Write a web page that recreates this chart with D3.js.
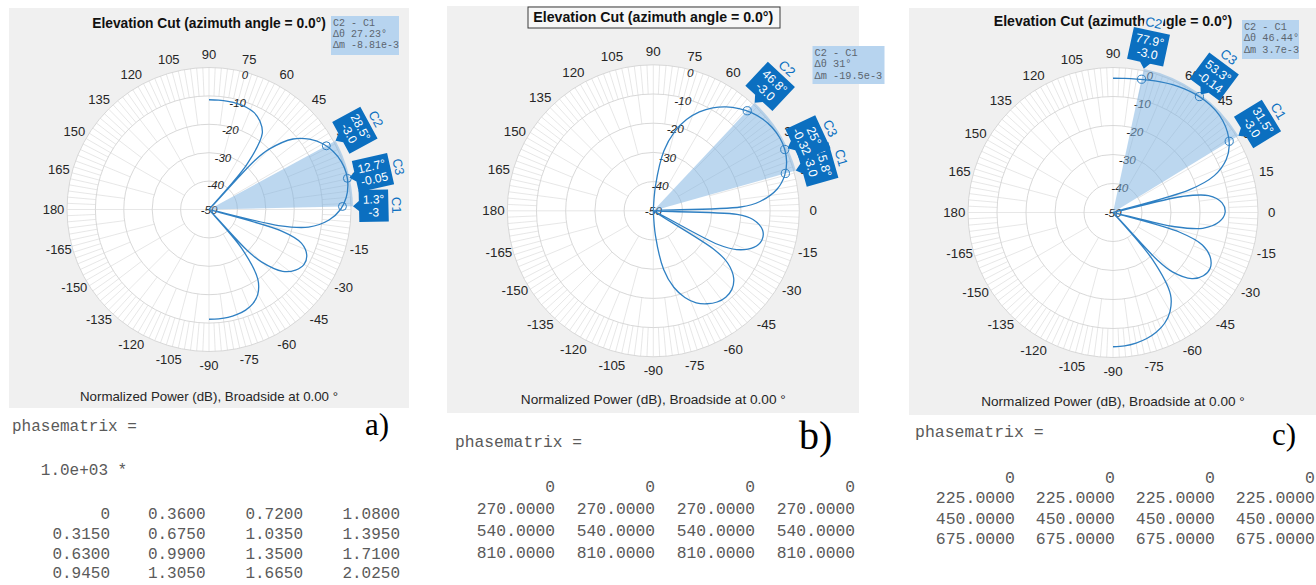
<!DOCTYPE html>
<html>
<head>
<meta charset="utf-8">
<script src="https://cdn.jsdelivr.net/npm/d3@7"></script>
<style>
  body { margin: 0; background: #fff; }
  svg { display: block; font-family: "Liberation Sans", Arial, sans-serif; }
</style>
</head>
<body>
<svg id="fig" width="1316" height="585"></svg>
<script>
// ---- data ----
const titleText = "Elevation Cut (azimuth angle = 0.0°)";
const captionText = "Normalized Power (dB), Broadside at 0.00 °";
const angleTicks = [0, 15, 30, 45, 60, 75, 90, 105, 120, 135, 150, 165, 180,
  -165, -150, -135, -120, -105, -90, -75, -60, -45, -30, -15];
const ringTicks = [0, -10, -20, -30, -40, -50];

// [angle in degrees, normalized power in dB]
const patternA = [[-90,-11.35],[-85,-11.36],[-80,-11.42],[-75,-11.75],[-70,-12.3],[-65,-13.44],
  [-60,-15.62],[-55,-20.04],[-50,-32.0],[-48.6,-50],[-47,-30.5],[-45,-23.9],[-40,-16.13],
  [-35,-12.8],[-30,-11.35],[-25,-12.03],[-20,-15.38],[-16.5,-23.5],[-14.5,-50],[-13,-24.9],
  [-10,-14.41],[-5,-7.57],[0,-3.7],[5,-1.51],[10,-0.35],[15,0],[20,-0.48],[25,-1.71],
  [30,-3.7],[35,-6.82],[40,-11.38],[45,-19.84],[47,-26.5],[48.6,-50],[50,-29.24],[55,-17.3],
  [60,-14.08],[65,-12.37],[70,-11.68],[75,-11.43],[80,-11.38],[85,-11.36],[90,-11.35]];

const patternB = [[-90,-50],[-85,-41.5],[-80,-29.6],[-75,-22.9],[-70,-18.42],[-65,-15.24],
  [-60,-13.24],[-55,-11.87],[-50,-11.39],[-45,-11.94],[-40,-14.06],[-35,-18.99],[-32.5,-25.2],
  [-30,-50],[-27.5,-25.0],[-25,-18.58],[-20,-13.38],[-15,-11.47],[-10,-12.01],[-5,-15.73],
  [-2.5,-21.3],[0,-50],[2.5,-20.1],[5,-13.32],[10,-6.9],[15,-3.45],[20,-1.41],[25,-0.33],
  [30,0],[35,-0.3],[40,-1.14],[45,-2.48],[50,-4.31],[55,-6.53],[60,-9.29],[65,-12.65],
  [70,-16.76],[75,-21.99],[80,-29.2],[85,-41.4],[90,-50]];

const patternC = [[-90,-3.7],[-85,-3.84],[-80,-4.28],[-75,-5.01],[-70,-6.16],[-65,-7.86],
  [-60,-10.65],[-55,-15.43],[-50,-28.78],[-48.6,-50],[-47,-27.5],[-45,-21.03],[-40,-14.49],
  [-35,-11.96],[-30,-11.35],[-25,-12.92],[-20,-17.2],[-16.5,-26.0],[-14.5,-50],[-13,-28.15],
  [-10,-18.59],[-5,-13.23],[0,-11.35],[5,-12.24],[10,-16.57],[13,-25.5],[14.5,-50],
  [16.5,-22.6],[20,-12.83],[25,-6.95],[30,-3.7],[35,-1.79],[40,-0.64],[45,-0.1],[50,-0.01],
  [55,-0.26],[60,-0.76],[65,-1.37],[70,-2.07],[75,-2.73],[80,-3.27],[85,-3.59],[90,-3.7]];

const cursorsA = [
  { name: "C1", angle: 1.3, value: -3, lines: ["1.3°", "-3"], upright: true },
  { name: "C2", angle: 28.5, value: -3.0, lines: ["28.5°", "-3.0"], upright: false },
  { name: "C3", angle: 12.7, value: -0.05, lines: ["12.7°", "-0.05"], upright: true }
];
const cursorsB = [
  { name: "C1", angle: 15.8, value: -3.0, lines: ["15.8°", "-3.0"], upright: false },
  { name: "C2", angle: 46.8, value: -3.0, lines: ["46.8°", "-3.0"], upright: false },
  { name: "C3", angle: 25, value: -0.32, lines: ["25°", "-0.32"], upright: false }
];
const cursorsC = [
  { name: "C1", angle: 31.5, value: -3.0, lines: ["31.5°", "-3.0"], upright: false },
  { name: "C2", angle: 77.9, value: -3.0, lines: ["77.9°", "-3.0"], upright: false },
  { name: "C3", angle: 53.3, value: -0.14, lines: ["53.3°", "-0.14"], upright: false }
];

const deltaA = ["C2 - C1", "Δθ 27.23°", "Δm -8.81e-3"];
const deltaB = ["C2 - C1", "Δθ 31°", "Δm -19.5e-3"];
const deltaC = ["C2 - C1", "Δθ 46.44°", "Δm 3.7e-3"];

const matrixA = [["0", "0.3600", "0.7200", "1.0800"],
  ["0.3150", "0.6750", "1.0350", "1.3950"],
  ["0.6300", "0.9900", "1.3500", "1.7100"],
  ["0.9450", "1.3050", "1.6650", "2.0250"]];
const matrixB = [["0", "0", "0", "0"],
  ["270.0000", "270.0000", "270.0000", "270.0000"],
  ["540.0000", "540.0000", "540.0000", "540.0000"],
  ["810.0000", "810.0000", "810.0000", "810.0000"]];
const matrixC = [["0", "0", "0", "0"],
  ["225.0000", "225.0000", "225.0000", "225.0000"],
  ["450.0000", "450.0000", "450.0000", "450.0000"],
  ["675.0000", "675.0000", "675.0000", "675.0000"]];

// ---- layout ----
const panels = [
  { pattern: patternA, cursors: cursorsA, delta: deltaA, matrix: matrixA, letter: "a)", scaleNote: "1.0e+03 *",
    cx: 209, cy: 209.5, R: 142, bg: [9, 8, 400, 400], titleY: 23, capY: 396,
    deltaBox: [331, 16, 68, 39], titleBox: null,
    pm: { x: 12, y: 431, fs: 16 }, scaleY: 475, rowsY: [518.5, 538.5, 558.5, 578], colsX: [110, 205.5, 303, 400],
    lab: { x: 365, y: 435, fs: 31 } },
  { pattern: patternB, cursors: cursorsB, delta: deltaB, matrix: matrixB, letter: "b)", scaleNote: null,
    cx: 653.3, cy: 210.8, R: 146, bg: [447, 6, 412, 407], titleY: 17, capY: 399.5,
    deltaBox: [812.5, 46, 72, 38], titleBox: [528, 7, 252, 21],
    pm: { x: 455, y: 447, fs: 16.3 }, scaleY: null, rowsY: [492, 513.5, 535.5, 558], colsX: [555, 655, 755, 855],
    lab: { x: 799, y: 449, fs: 40 } },
  { pattern: patternC, cursors: cursorsC, delta: deltaC, matrix: matrixC, letter: "c)", scaleNote: null,
    cx: 1113, cy: 212.5, R: 145, bg: [909, 8, 407, 407], titleY: 21, capY: 401,
    deltaBox: [1242, 20, 57, 39], titleBox: null,
    pm: { x: 915, y: 436.5, fs: 16.5 }, scaleY: null, rowsY: [482.5, 502.5, 524, 543.5], colsX: [1015, 1115, 1215, 1315],
    lab: { x: 1272, y: 445, fs: 31 } }
];

const blue = "#2f80c3";
const boxBlue = "#0b6fc0";
const txt = "#262626";
const spokeSteps = [90, 30, 15, 7.5, 2.5]; // angular grid step per dB band, inner to outer

const svg = d3.select("#fig");

panels.forEach(p => {
  const s = p.R / 142;
  const g = svg.append("g");

  // figure background
  g.append("rect").attr("x", p.bg[0]).attr("y", p.bg[1]).attr("width", p.bg[2]).attr("height", p.bg[3])
    .attr("fill", "#f0f0f0");

  // title
  if (p.titleBox) {
    g.append("rect").attr("x", p.titleBox[0]).attr("y", p.titleBox[1])
      .attr("width", p.titleBox[2]).attr("height", p.titleBox[3])
      .attr("fill", "#f7f7f7").attr("stroke", "#3a3a3a").attr("stroke-width", 1);
  }
  g.append("text").attr("x", p.cx).attr("y", p.titleY).attr("dy", "0.35em")
    .attr("text-anchor", "middle").style("font-size", (13.8 * s) + "px").style("font-weight", "bold")
    .attr("fill", "#111").text(titleText);

  g.append("text").attr("x", p.cx).attr("y", p.capY).attr("dy", "0.35em")
    .attr("text-anchor", "middle").style("font-size", (13.3 * s) + "px")
    .attr("fill", txt).text(captionText);

  const r = d3.scaleLinear().domain([-50, 0]).range([0, p.R]).clamp(true);
  const ang = d3.scaleLinear().domain([-90, 90]).range([Math.PI, 0]); // lineRadial angle

  const plot = g.append("g").attr("transform", `translate(${p.cx},${p.cy})`);
  plot.append("circle").attr("r", p.R).attr("fill", "#fff");

  // spokes, each drawn from the innermost band that carries it
  spokeSteps.forEach((step, i) => {
    const r0 = r(ringTicks[ringTicks.length - 1 - i]);
    const list = d3.range(0, 360, step).filter(a =>
      !spokeSteps.slice(0, i).some(st => Math.abs(a / st - Math.round(a / st)) < 1e-6));
    plot.selectAll(null).data(list).enter().append("line")
      .attr("x1", a => r0 * Math.cos(a * Math.PI / 180))
      .attr("y1", a => -r0 * Math.sin(a * Math.PI / 180))
      .attr("x2", a => p.R * Math.cos(a * Math.PI / 180))
      .attr("y2", a => -p.R * Math.sin(a * Math.PI / 180))
      .attr("stroke", "#e1e1e1").attr("stroke-width", 0.8);
  });
  plot.selectAll(null).data(ringTicks.slice(0, 5)).enter().append("circle")
    .attr("r", d => r(d)).attr("fill", "none").attr("stroke", "#d4d4d4").attr("stroke-width", 0.9);

  // angle labels
  plot.selectAll(null).data(angleTicks).enter().append("text")
    .attr("x", d => (p.R + 13.5 * s) * Math.cos(d * Math.PI / 180))
    .attr("y", d => -(p.R + 13.5 * s) * Math.sin(d * Math.PI / 180))
    .attr("dy", "0.35em").attr("text-anchor", "middle")
    .style("font-size", (13 * s) + "px").attr("fill", txt).text(d => d);

  // ring labels
  plot.selectAll(null).data(ringTicks).enter().append("text")
    .attr("x", d => Math.max(0, r(d) - 3 * s) * Math.cos(75 * Math.PI / 180))
    .attr("y", d => -Math.max(0, r(d) - 3 * s) * Math.sin(75 * Math.PI / 180))
    .attr("dy", "0.35em").attr("text-anchor", "middle")
    .style("font-size", (11.5 * s) + "px").style("font-style", "italic")
    .attr("fill", txt).text(d => d);

  // shaded span between C1 and C2
  const c1 = p.cursors.find(c => c.name === "C1");
  const c2 = p.cursors.find(c => c.name === "C2");
  plot.append("path")
    .attr("d", d3.arc().innerRadius(0).outerRadius(p.R + 2 * s)
      .startAngle(ang(c2.angle)).endAngle(ang(c1.angle))())
    .attr("fill", "#7fb2e0").attr("fill-opacity", 0.52);

  // pattern curve
  const line = d3.lineRadial()
    .angle(d => ang(d[0])).radius(d => r(d[1]))
    .curve(d3.curveCatmullRom.alpha(0.5));
  plot.append("path").datum(p.pattern).attr("d", line)
    .attr("fill", "none").attr("stroke", blue).attr("stroke-width", 1.3);

  // cursor markers
  plot.selectAll(null).data(p.cursors).enter().append("circle")
    .attr("cx", d => r(d.value) * Math.cos(d.angle * Math.PI / 180))
    .attr("cy", d => -r(d.value) * Math.sin(d.angle * Math.PI / 180))
    .attr("r", 4 * s).attr("fill", "none").attr("stroke", blue).attr("stroke-width", 1);

  // delta readout
  const db = p.deltaBox;
  g.append("rect").attr("x", db[0]).attr("y", db[1]).attr("width", db[2]).attr("height", db[3])
    .attr("fill", "#b7d4ef");
  p.delta.forEach((t, i) => {
    g.append("text").attr("x", db[0] + 2).attr("y", db[1] + 6 + 11.3 * s * i).attr("dy", "0.35em")
      .style("font-family", "'Liberation Mono', monospace").style("font-size", (10 * s) + "px")
      .attr("fill", "#5c6670").text(t);
  });

  // cursor data tips, C1 then C2 then C3
  p.cursors.slice().sort((a, b) => d3.ascending(a.name, b.name)).forEach(c => {
    const fr = plot.append("g").attr("transform", `rotate(${-c.angle})`);
    const fs = 12 * s, lh = 13 * s;
    const tmp = fr.append("text").style("font-size", fs + "px");
    const tw = d3.max(c.lines, t => { tmp.text(t); return tmp.node().getComputedTextLength(); }) + 8 * s;
    tmp.remove();
    const th = 2 * lh + 6 * s;
    const radial = c.upright ? tw : th;
    const half = (c.upright ? th : tw) / 2;
    const tip = p.R + 2 * s, b0 = p.R + 8 * s, b1 = b0 + radial, pw = 5 * s;
    fr.append("path")
      .attr("d", `M${tip},0L${b0},${-pw}L${b0},${-half}L${b1},${-half}L${b1},${half}L${b0},${half}L${b0},${pw}Z`)
      .attr("fill", boxBlue);
    const tg = fr.append("g").attr("transform",
      c.upright ? `translate(${(b0 + b1) / 2},0)` : `translate(${(b0 + b1) / 2},0) rotate(90)`);
    c.lines.forEach((t, i) => {
      tg.append("text").attr("x", 0).attr("y", (i - 0.5) * lh).attr("dy", "0.35em")
        .attr("text-anchor", "middle").style("font-size", fs + "px").attr("fill", "#fff").text(t);
    });
    const ng = fr.append("g").attr("transform", `translate(${b1 + 8 * s},0) rotate(90)`);
    const nt = ng.append("text").attr("x", 0).attr("y", 0).attr("dy", "0.35em")
      .attr("text-anchor", "middle").style("font-size", (13 * s) + "px").attr("fill", boxBlue).text(c.name);
    const nw = nt.node().getComputedTextLength();
    ng.insert("rect", "text").attr("x", -nw / 2 - 1).attr("y", -7 * s).attr("width", nw + 2).attr("height", 14 * s)
      .attr("fill", "#f0f0f0");
  });

  // phasematrix printout below the plot
  const mono = "'Liberation Mono', 'Courier New', monospace";
  const grey = "#5a5a5a";
  g.append("text").attr("x", p.pm.x).attr("y", p.pm.y)
    .style("font-family", mono).style("font-size", p.pm.fs + "px").attr("fill", grey)
    .text("phasematrix =");
  if (p.scaleNote) {
    g.append("text").attr("x", p.pm.x + 3 * p.pm.fs * 0.6).attr("y", p.scaleY)
      .style("font-family", mono).style("font-size", p.pm.fs + "px").attr("fill", grey)
      .text(p.scaleNote);
  }
  p.matrix.forEach((row, i) => {
    row.forEach((v, j) => {
      g.append("text").attr("x", p.colsX[j]).attr("y", p.rowsY[i]).attr("text-anchor", "end")
        .style("font-family", mono).style("font-size", p.pm.fs + "px").attr("fill", grey).text(v);
    });
  });
  g.append("text").attr("x", p.lab.x).attr("y", p.lab.y)
    .style("font-family", "'Liberation Serif', 'Times New Roman', serif")
    .style("font-size", p.lab.fs + "px").attr("fill", "#000").text(p.letter);
});
</script>
</body>
</html>
